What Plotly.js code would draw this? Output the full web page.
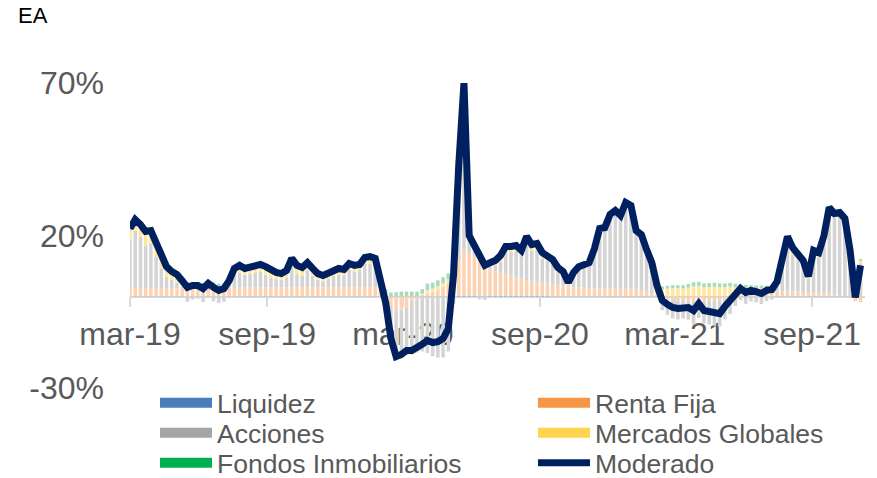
<!DOCTYPE html>
<html><head><meta charset="utf-8">
<script src="https://cdn.plot.ly/plotly-3.0.1.min.js"></script>
<style>html,body{margin:0;padding:0;background:#fff}#chart{width:877px;height:478px}</style>
</head><body><div id="chart"></div>
<script>
// ---- data (weekly, % EA) ----
const startDate = '2019-03-01';
const weekCount = 141;

const moderado = [
 22.3, 25.2, 23.6, 21.3, 21.6, 17.4, 13.1, 9.8, 8.2, 7.2,
 5.2, 3.0, 3.6, 3.6, 2.6, 4.3, 3.0, 2.0, 2.6, 5.2,
 9.2, 10.2, 9.2, 9.8, 10.2, 10.5, 9.8, 8.5, 7.9, 7.5,
 8.5, 12.5, 10.2, 9.5, 11.1, 9.2, 7.5, 6.9, 7.5, 8.5,
 9.2, 8.9, 10.8, 10.2, 10.5, 12.8, 13.1, 12.5, 5.2, -2.0,
 -13.8, -19.7, -19.0, -17.7, -17.7, -17.0, -15.7, -14.4, -15.1, -14.8,
 -13.8, -10.5, 7.0, 43.0, 70.0, 20.0, 16.7, 12.5, 10.2, 11.1,
 11.8, 13.4, 16.4, 16.4, 16.7, 15.1, 19.7, 17.0, 17.4, 14.4,
 13.4, 12.1, 9.5, 8.2, 4.6, 7.9, 9.8, 10.2, 11.1, 15.7,
 22.3, 22.6, 26.9, 28.2, 26.6, 30.8, 29.8, 21.6, 20.3, 15.4,
 11.1, 3.6, -1.3, -2.6, -3.6, -3.9, -3.6, -3.6, -4.6, -2.3,
 -4.6, -4.9, -5.2, -5.6, -3.3, -1.3, 1.0, 2.6, 1.3, 2.0,
 1.6, 1.0, 2.0, 2.3, 4.9, 13.4, 19.7, 16.0, 13.8, 11.8,
 6.6, 15.1, 14.4, 20.0, 29.2, 27.2, 27.5, 25.6, 15.1, -0.3, 10.2
];

const rentaFija = [
 2.6, 2.6, 2.7, 2.7, 2.7, 2.7, 2.7, 2.6, 2.6, 2.6,
 2.6, 2.6, 2.6, 2.6, 2.7, 2.7, 2.7, 2.7, 2.7, 2.8,
 2.8, 2.8, 2.8, 2.8, 2.8, 2.9, 2.9, 2.9, 2.9, 2.9,
 2.9, 3.0, 3.0, 3.0, 3.0, 3.0, 3.0, 3.0, 3.0, 3.0,
 3.0, 3.0, 3.0, 3.0, 3.0, 3.0, 3.0, 3.0, 2.5, 1.0,
 -3.0, -4.5, -4.5, -3.5, -1.5, -0.5, 0.5, 1.0, 1.5, 2.0,
 3.0, 4.0, 6.0, 12.0, 15.0, 14.0, 13.0, 12.0, 10.0, 9.0,
 8.0, 7.5, 7.0, 6.5, 6.0, 5.5, 5.0, 4.8, 4.5, 4.2,
 4.0, 3.8, 3.6, 3.4, 3.2, 3.0, 2.9, 2.8, 2.7, 2.6,
 2.6, 2.6, 2.5, 2.5, 2.4, 2.4, 2.3, 2.2, 2.0, 1.6,
 1.0, 0.2, -0.5, -1.0, -1.2, -1.4, -1.5, -1.6, -1.8, -1.6,
 -1.6, -1.5, -1.4, -1.2, -1.0, -0.6, -0.3, 0.0, 0.3, 0.6,
 0.8, 1.0, 1.2, 1.4, 1.6, 1.6, 1.6, 1.5, 1.5, 1.4,
 1.3, 1.2, 1.1, 1.0, 0.8, 0.6, 0.4, 0.0, -0.5, -1.5, -2.0
];

const acciones = [
 16.1, 18.8, 16.7, 13.9, 14.6, 10.3, 6.4, 3.8, 2.7, 1.8,
 0.4, -1.7, -1.0, -0.7, -1.8, 0.0, -1.6, -2.1, -1.7, 0.8,
 4.2, 5.0, 4.2, 4.6, 4.8, 5.1, 4.2, 3.1, 2.7, 2.5,
 3.3, 6.7, 4.2, 3.7, 5.5, 3.7, 2.4, 1.9, 2.7, 3.6,
 4.0, 3.9, 5.6, 5.1, 5.6, 7.6, 7.7, 7.3, 1.3, -3.8,
 -11.0, -15.5, -15.0, -14.5, -16.5, -17.0, -18.0, -18.5, -19.5, -20.0,
 -20.0, -18.0, -2.5, 27.5, 50.5, 4.0, 1.9, -0.9, -1.1, 0.6,
 1.9, 3.5, 7.0, 7.8, 8.8, 7.8, 12.6, 9.9, 10.4, 7.9,
 7.3, 6.5, 4.4, 3.7, 0.6, 4.0, 6.0, 6.6, 7.6, 12.4,
 19.0, 19.3, 23.8, 25.1, 23.6, 27.7, 26.8, 18.6, 17.2, 12.4,
 8.2, 0.7, -4.0, -5.0, -6.0, -6.1, -5.7, -6.0, -7.4, -5.4,
 -7.2, -7.7, -8.2, -8.6, -6.5, -5.1, -2.8, -1.2, -2.4, -1.6,
 -1.9, -2.5, -1.5, -1.0, 1.7, 10.1, 15.9, 12.1, 10.1, 9.1,
 4.4, 13.1, 12.6, 18.4, 27.8, 26.1, 26.6, 25.1, 15.2, 0.7, 10.8
];

const mercadosGlobales = [
 3.0, 3.2, 3.5, 3.8, 3.5, 3.6, 3.2, 2.5, 2.0, 1.8,
 1.2, 0.8, 0.8, 0.6, 0.5, 0.6, 0.6, 0.5, 0.6, 0.8,
 1.5, 1.8, 1.6, 1.8, 2.0, 2.0, 2.2, 2.0, 1.8, 1.6,
 1.8, 2.4, 2.6, 2.4, 2.2, 2.0, 1.6, 1.4, 1.2, 1.2,
 1.4, 1.2, 1.4, 1.2, 1.0, 1.2, 1.4, 1.2, 0.2, -0.5,
 -1.0, -1.0, -1.0, -1.2, -1.2, -1.0, 0.3, 1.0, 1.0, 1.2,
 1.2, 1.5, 1.5, 2.0, 3.0, 1.0, 1.0, 0.8, 0.8, 1.0,
 1.5, 2.0, 2.0, 1.8, 1.6, 1.5, 1.8, 2.0, 2.2, 2.0,
 1.8, 1.5, 1.2, 0.8, 0.5, 0.6, 0.6, 0.5, 0.5, 0.5,
 0.5, 0.5, 0.4, 0.4, 0.4, 0.5, 0.5, 0.6, 0.8, 1.0,
 1.4, 2.0, 2.4, 2.5, 2.6, 2.6, 2.5, 2.8, 3.2, 3.4,
 3.0, 3.0, 3.1, 3.0, 3.0, 3.2, 3.0, 2.8, 2.4, 2.0,
 1.8, 1.6, 1.5, 1.2, 1.0, 1.2, 1.8, 2.0, 1.8, 1.0,
 0.6, 0.5, 0.4, 0.3, 0.3, 0.3, 0.3, 0.3, 0.2, 0.2, 0.8
];

const fondosInmobiliarios = [
 0.6, 0.6, 0.7, 0.9, 0.8, 0.8, 0.8, 0.9, 0.9, 1.0,
 1.0, 1.3, 1.2, 1.1, 1.2, 1.0, 1.3, 0.9, 1.0, 0.8,
 0.7, 0.6, 0.6, 0.6, 0.6, 0.5, 0.5, 0.5, 0.5, 0.5,
 0.5, 0.4, 0.4, 0.4, 0.4, 0.5, 0.5, 0.6, 0.6, 0.7,
 0.8, 0.8, 0.8, 0.9, 0.9, 1.0, 1.0, 1.0, 1.2, 1.3,
 1.2, 1.3, 1.5, 1.5, 1.5, 1.5, 1.5, 2.1, 1.9, 2.0,
 2.0, 2.0, 2.0, 1.5, 1.5, 1.0, 0.8, 0.6, 0.5, 0.5,
 0.4, 0.4, 0.4, 0.3, 0.3, 0.3, 0.3, 0.3, 0.3, 0.3,
 0.3, 0.3, 0.3, 0.3, 0.3, 0.3, 0.3, 0.3, 0.3, 0.2,
 0.2, 0.2, 0.2, 0.2, 0.2, 0.2, 0.2, 0.2, 0.3, 0.4,
 0.5, 0.7, 0.8, 0.9, 1.0, 1.0, 1.1, 1.2, 1.4, 1.3,
 1.2, 1.3, 1.3, 1.2, 1.2, 1.2, 1.1, 1.0, 1.0, 1.0,
 0.9, 0.9, 0.8, 0.7, 0.6, 0.5, 0.4, 0.4, 0.4, 0.3,
 0.3, 0.3, 0.3, 0.3, 0.3, 0.2, 0.2, 0.2, 0.2, 0.3, 0.6
];

const liquidez = [
 0.1, 0.1, 0.1, 0.1, 0.1, 0.1, 0.1, 0.1, 0.1, 0.1,
 0.1, 0.1, 0.1, 0.1, 0.1, 0.1, 0.1, 0.1, 0.1, 0.1,
 0.1, 0.1, 0.1, 0.1, 0.1, 0.1, 0.1, 0.1, 0.1, 0.1,
 0.1, 0.1, 0.1, 0.1, 0.1, 0.1, 0.1, 0.1, 0.1, 0.1,
 0.1, 0.1, 0.1, 0.1, 0.1, 0.1, 0.1, 0.1, 0.1, 0.1,
 0.1, 0.1, 0.1, 0.1, 0.1, 0.1, 0.1, 0.1, 0.1, 0.1,
 0.1, 0.1, 0.3, 0.3, 0.3, 0.3, 0.3, 0.3, 0.3, 0.3,
 0.3, 0.3, 0.3, 0.3, 0.3, 0.3, 0.3, 0.3, 0.3, 0.3,
 0.3, 0.1, 0.1, 0.1, 0.1, 0.1, 0.1, 0.1, 0.1, 0.1,
 0.1, 0.1, 0.1, 0.1, 0.1, 0.1, 0.1, 0.1, 0.1, 0.1,
 0.1, 0.1, 0.1, 0.1, 0.1, 0.1, 0.1, 0.1, 0.1, 0.1,
 0.1, 0.1, 0.1, 0.1, 0.1, 0.1, 0.1, 0.1, 0.1, 0.1,
 0.1, 0.1, 0.1, 0.1, 0.1, 0.1, 0.1, 0.1, 0.1, 0.1,
 0.1, 0.1, 0.1, 0.1, 0.1, 0.1, 0.1, 0.1, 0.1, 0.1, 0.1
];

const tickDates = ['2019-03-01','2019-09-01','2020-03-01','2020-09-01','2021-03-01','2021-09-01'];
const tickLabels = ['mar-19','sep-19','mar-20','sep-20','mar-21','sep-21'];
const yTicks = [-30, 20, 70];
const yTickLabels = ['-30%', '20%', '70%'];

// ---- build date categories ----
const dates = [];
const t0 = Date.parse(startDate + 'T00:00:00Z');
for (let i = 0; i < weekCount; i++) {
  dates.push(new Date(t0 + i * 7 * 86400000).toISOString().slice(0, 10));
}

// ---- styling ----
const FONT = 'Liberation Sans, Arial, Helvetica, sans-serif';
const W = 877, H = 478;
const M = {l: 130, r: 12, t: 83, b: 90};
const PW = W - M.l - M.r, PH = H - M.t - M.b;
const px2x = px => (px - M.l) / PW;
const py2y = py => (H - M.b - py) / PH;

const barSeries = [
  {name: 'Liquidez', y: liquidez, bar: '#7fa3d3', full: '#4a7ebb', legend: 'legend', lw: 311},
  {name: 'Renta Fija', y: rentaFija, bar: '#fcd3b2', full: '#f79646', legend: 'legend', lw: 260},
  {name: 'Acciones', y: acciones, bar: '#d4d4d4', full: '#a5a5a5', legend: 'legend2', lw: 311},
  {name: 'Mercados Globales', y: mercadosGlobales, bar: '#ffe79b', full: '#ffd54f', legend: 'legend2', lw: 260},
  {name: 'Fondos Inmobiliarios', y: fondosInmobiliarios, bar: '#a6dcba', full: '#00b050', legend: 'legend3', lw: 311}
];

const traces = [];
barSeries.forEach(s => {
  traces.push({
    type: 'bar', x: dates, y: s.y, name: s.name, legendgroup: s.name,
    marker: {color: s.bar, line: {width: 0}}, showlegend: false, hoverinfo: 'skip'
  });
});
barSeries.forEach(s => {
  traces.push({
    type: 'scatter', mode: 'lines', x: [null], y: [null], name: s.name, legendgroup: s.name,
    line: {color: s.full, width: 13}, showlegend: true, legend: s.legend, legendwidth: s.lw, hoverinfo: 'skip'
  });
});
traces.push({
  type: 'scatter', mode: 'lines', x: dates, y: moderado, name: 'Moderado',
  line: {color: '#002060', width: 7}, legend: 'legend3', legendwidth: 260
});

const legendBase = {
  orientation: 'h', xanchor: 'left', yanchor: 'middle', x: px2x(155),
  itemwidth: 52, font: {family: FONT, size: 26.5, color: '#595959'},
  bgcolor: 'rgba(0,0,0,0)', borderwidth: 0, itemclick: false, itemdoubleclick: false
};

const layout = {
  width: W, height: H,
  margin: Object.assign({autoexpand: false}, M),
  paper_bgcolor: '#ffffff', plot_bgcolor: '#ffffff',
  font: {family: FONT, color: '#595959'},
  title: {
    text: 'EA', x: 18 / W, xref: 'container', xanchor: 'left',
    y: 1 - 15 / H, yref: 'container', yanchor: 'middle',
    font: {family: FONT, size: 22, color: '#000000'}
  },
  barmode: 'relative', bargap: 0.32,
  showlegend: true,
  legend: Object.assign({}, legendBase, {y: py2y(403)}),
  legend2: Object.assign({}, legendBase, {y: py2y(433)}),
  legend3: Object.assign({}, legendBase, {y: py2y(463)}),
  xaxis: {
    type: 'date', range: ['2019-03-01', '2021-11-11'],
    anchor: 'free', position: 0.3,
    tickmode: 'array', tickvals: tickDates, ticktext: tickLabels,
    ticks: 'outside', ticklen: 9, tickwidth: 2, tickcolor: '#d9d9d9',
    showline: true, linecolor: '#d9d9d9', linewidth: 2,
    showgrid: false, zeroline: false, layer: 'below traces',
    tickfont: {family: FONT, size: 32, color: '#595959'},
    ticklabelstandoff: 0, fixedrange: true
  },
  yaxis: {
    range: [-30, 70], tickmode: 'array', tickvals: yTicks, ticktext: yTickLabels,
    showgrid: false, zeroline: false, showline: false, ticks: '',
    tickfont: {family: FONT, size: 32, color: '#595959'},
    ticklabelstandoff: 25, fixedrange: true
  }
};

Plotly.newPlot('chart', traces, layout, {staticPlot: true, displayModeBar: false});
</script>
</body></html>
